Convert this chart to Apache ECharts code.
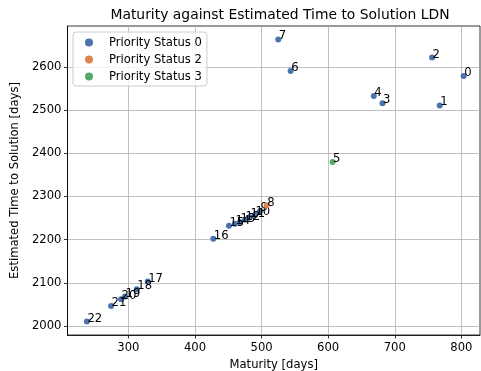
<!DOCTYPE html>
<html>
<head>
<meta charset="utf-8">
<script src="https://cdn.jsdelivr.net/npm/echarts@6/dist/echarts.min.js"></script>
<style>
  html, body { margin: 0; padding: 0; background: #fff; }
  #chart { width: 481px; height: 371px; }
</style>
</head>
<body>
<div id="chart"></div>
<script>
// Maturity (x) and estimated time to solution (y), one entry per item index
const maturity = [803.5, 767.5, 756, 681.6, 668.5, 606.6, 543.6, 525, 507.6, 497.5, 490, 482.5,
                  475, 467.5, 460, 451, 427.5, 329, 312.6, 295, 289, 274, 237.6];
const timeToSolution = [2579, 2511, 2622, 2516, 2533, 2380, 2591, 2664, 2279, 2266, 2257, 2252,
                        2246, 2241, 2237, 2232, 2202, 2103, 2085, 2068, 2062, 2046, 2010];
const priority = [0, 0, 0, 0, 0, 3, 0, 0, 2, 0, 0, 0, 0, 0, 0, 0, 0, 0, 0, 0, 0, 0, 0];

const priorityLevels = [0, 2, 3];
const priorityColors = ['#4c72b0', '#dd8452', '#55a868'];

const xTicks = [300, 400, 500, 600, 700, 800];
const yTicks = [2000, 2100, 2200, 2300, 2400, 2500, 2600];
const xRange = [208.5, 828];
const yRange = [1979, 2695];

const FONT = 'DejaVu Sans';
const FS = 11.6;

const series = priorityLevels.map((level, k) => ({
  name: 'Priority Status ' + level,
  type: 'scatter',
  symbol: 'circle',
  symbolSize: 6,
  itemStyle: { color: priorityColors[k], opacity: 1 },
  data: maturity
    .map((m, i) => ({ value: [m, timeToSolution[i]], idx: i }))
    .filter(d => priority[d.idx] === level)
    .map(d => ({ value: d.value, name: String(d.idx) })),
  label: {
    show: true,
    formatter: p => p.name,
    position: [3.5, 6],
    align: 'left',
    verticalAlign: 'bottom',
    color: '#000',
    fontFamily: FONT,
    fontSize: FS
  },
  emphasis: { disabled: true },
  z: 3 + k
}));

const chart = echarts.init(document.getElementById('chart'), null, { renderer: 'canvas' });
chart.setOption({
  animation: false,
  backgroundColor: '#fff',
  title: {
    text: 'Maturity against Estimated Time to Solution LDN',
    left: 275,
    textAlign: 'center',
    top: 3,
    textStyle: { fontFamily: FONT, fontSize: 13.9, fontWeight: 'normal', color: '#000' }
  },
  legend: {
    orient: 'vertical',
    left: 73,
    top: 32,
    padding: [2, 5, 1, 12],
    itemWidth: 30,
    itemHeight: 8,
    itemGap: 0,
    icon: 'circle',
    backgroundColor: 'rgba(255,255,255,0.8)',
    borderColor: '#cccccc',
    borderWidth: 1,
    borderRadius: 3,
    textStyle: { fontFamily: FONT, fontSize: FS, color: '#000', lineHeight: 17 },
    data: series.map(s => s.name)
  },
  grid: {
    left: 67.5, right: 1, top: 26, bottom: 36,
    outerBoundsMode: 'none',
    containLabel: false,
    show: true, borderColor: '#000', borderWidth: 0.8, backgroundColor: 'transparent'
  },
  xAxis: {
    type: 'value',
    min: xRange[0], max: xRange[1],
    name: 'Maturity [days]',
    nameLocation: 'middle',
    nameGap: 22,
    nameTextStyle: { fontFamily: FONT, fontSize: FS, color: '#000' },
    axisLine: { show: true, lineStyle: { color: '#000', width: 0.8 } },
    axisTick: { show: true, customValues: xTicks, length: 3.5, lineStyle: { color: '#000', width: 0.8 } },
    axisLabel: { customValues: xTicks, formatter: v => String(v), fontFamily: FONT, fontSize: FS, color: '#000', margin: 7 },
    splitLine: { show: true, lineStyle: { color: '#b0b0b0', width: 0.8 } }
  },
  yAxis: {
    type: 'value',
    min: yRange[0], max: yRange[1],
    name: 'Estimated Time to Solution [days]',
    nameLocation: 'middle',
    nameRotate: 90,
    nameGap: 41,
    nameTextStyle: { fontFamily: FONT, fontSize: FS, color: '#000' },
    axisLine: { show: true, lineStyle: { color: '#000', width: 0.8 } },
    axisTick: { show: true, customValues: yTicks, length: 3.5, lineStyle: { color: '#000', width: 0.8 } },
    axisLabel: { customValues: yTicks, formatter: v => String(v), fontFamily: FONT, fontSize: FS, color: '#000', margin: 6 },
    splitLine: { show: true, lineStyle: { color: '#b0b0b0', width: 0.8 } }
  },
  series: series
});
</script>
</body>
</html>
